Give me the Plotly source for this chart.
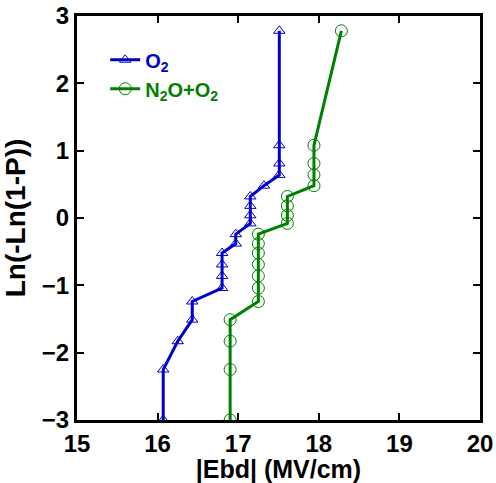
import plotly.graph_objects as go

y_vals = [-3.0, -2.25, -1.83, -1.51, -1.24, -1.04, -0.86, -0.69, -0.52, -0.38,
          -0.24, -0.08, 0.04, 0.18, 0.32, 0.48, 0.64, 0.81, 1.08, 2.78]
x_o2 = [16.07, 16.07, 16.25, 16.43, 16.43, 16.80, 16.80, 16.80, 16.80, 16.97,
        16.97, 17.15, 17.15, 17.15, 17.15, 17.32, 17.51, 17.51, 17.51, 17.51]
x_n2o = [16.90, 16.90, 16.90, 16.90, 17.25, 17.25, 17.25, 17.25, 17.25, 17.25,
         17.25, 17.61, 17.61, 17.61, 17.61, 17.94, 17.94, 17.94, 17.94, 18.28]
x_ticks = [15, 16, 17, 18, 19, 20]
y_ticks = [-3, -2, -1, 0, 1, 2, 3]

blue = "#0000cd"
green = "#008000"
font = "Liberation Sans, Arial, sans-serif"

fig = go.Figure()
fig.add_trace(go.Scatter(
    x=x_o2, y=y_vals, mode="lines+markers",
    name=f"<b><span style='color:{blue}'>O<sub>2</sub></span></b>",
    line=dict(color=blue, width=3),
    marker=dict(symbol="triangle-up-open", size=10, color=blue, line=dict(width=1, color=blue)),
))
fig.add_trace(go.Scatter(
    x=x_n2o, y=y_vals, mode="lines+markers",
    name=f"<b><span style='color:{green}'>N<sub>2</sub>O+O<sub>2</sub></span></b>",
    line=dict(color=green, width=3),
    marker=dict(symbol="circle-open", size=12, color=green, line=dict(width=1, color=green)),
))

axis_common = dict(
    showline=True, linecolor="black", linewidth=3, mirror="ticks",
    ticks="inside", ticklen=7, tickwidth=2, tickcolor="black",
    showgrid=False, zeroline=False, automargin=False,
    tickfont=dict(family=font, size=24, color="black", weight="bold"),
)

fig.update_layout(
    template="none",
    width=496, height=483,
    margin=dict(l=77, r=16, t=16, b=63),
    paper_bgcolor="white", plot_bgcolor="white",
    showlegend=True,
    legend=dict(x=0.07, y=0.94, xanchor="left", yanchor="top",
                bgcolor="rgba(0,0,0,0)", font=dict(family=font, size=20),
                tracegroupgap=4),
    xaxis=dict(range=[15, 20], tickvals=x_ticks, **axis_common,
               title=dict(text="<b>|Ebd| (MV/cm)</b>",
                          font=dict(family=font, size=25, color="black"))),
    yaxis=dict(range=[-3, 3], tickvals=y_ticks, **axis_common,
               title=dict(text="<b>Ln(-Ln(1-P))</b>",
                          font=dict(family=font, size=28, color="black"))),
)

fig.write_html("out.html")
